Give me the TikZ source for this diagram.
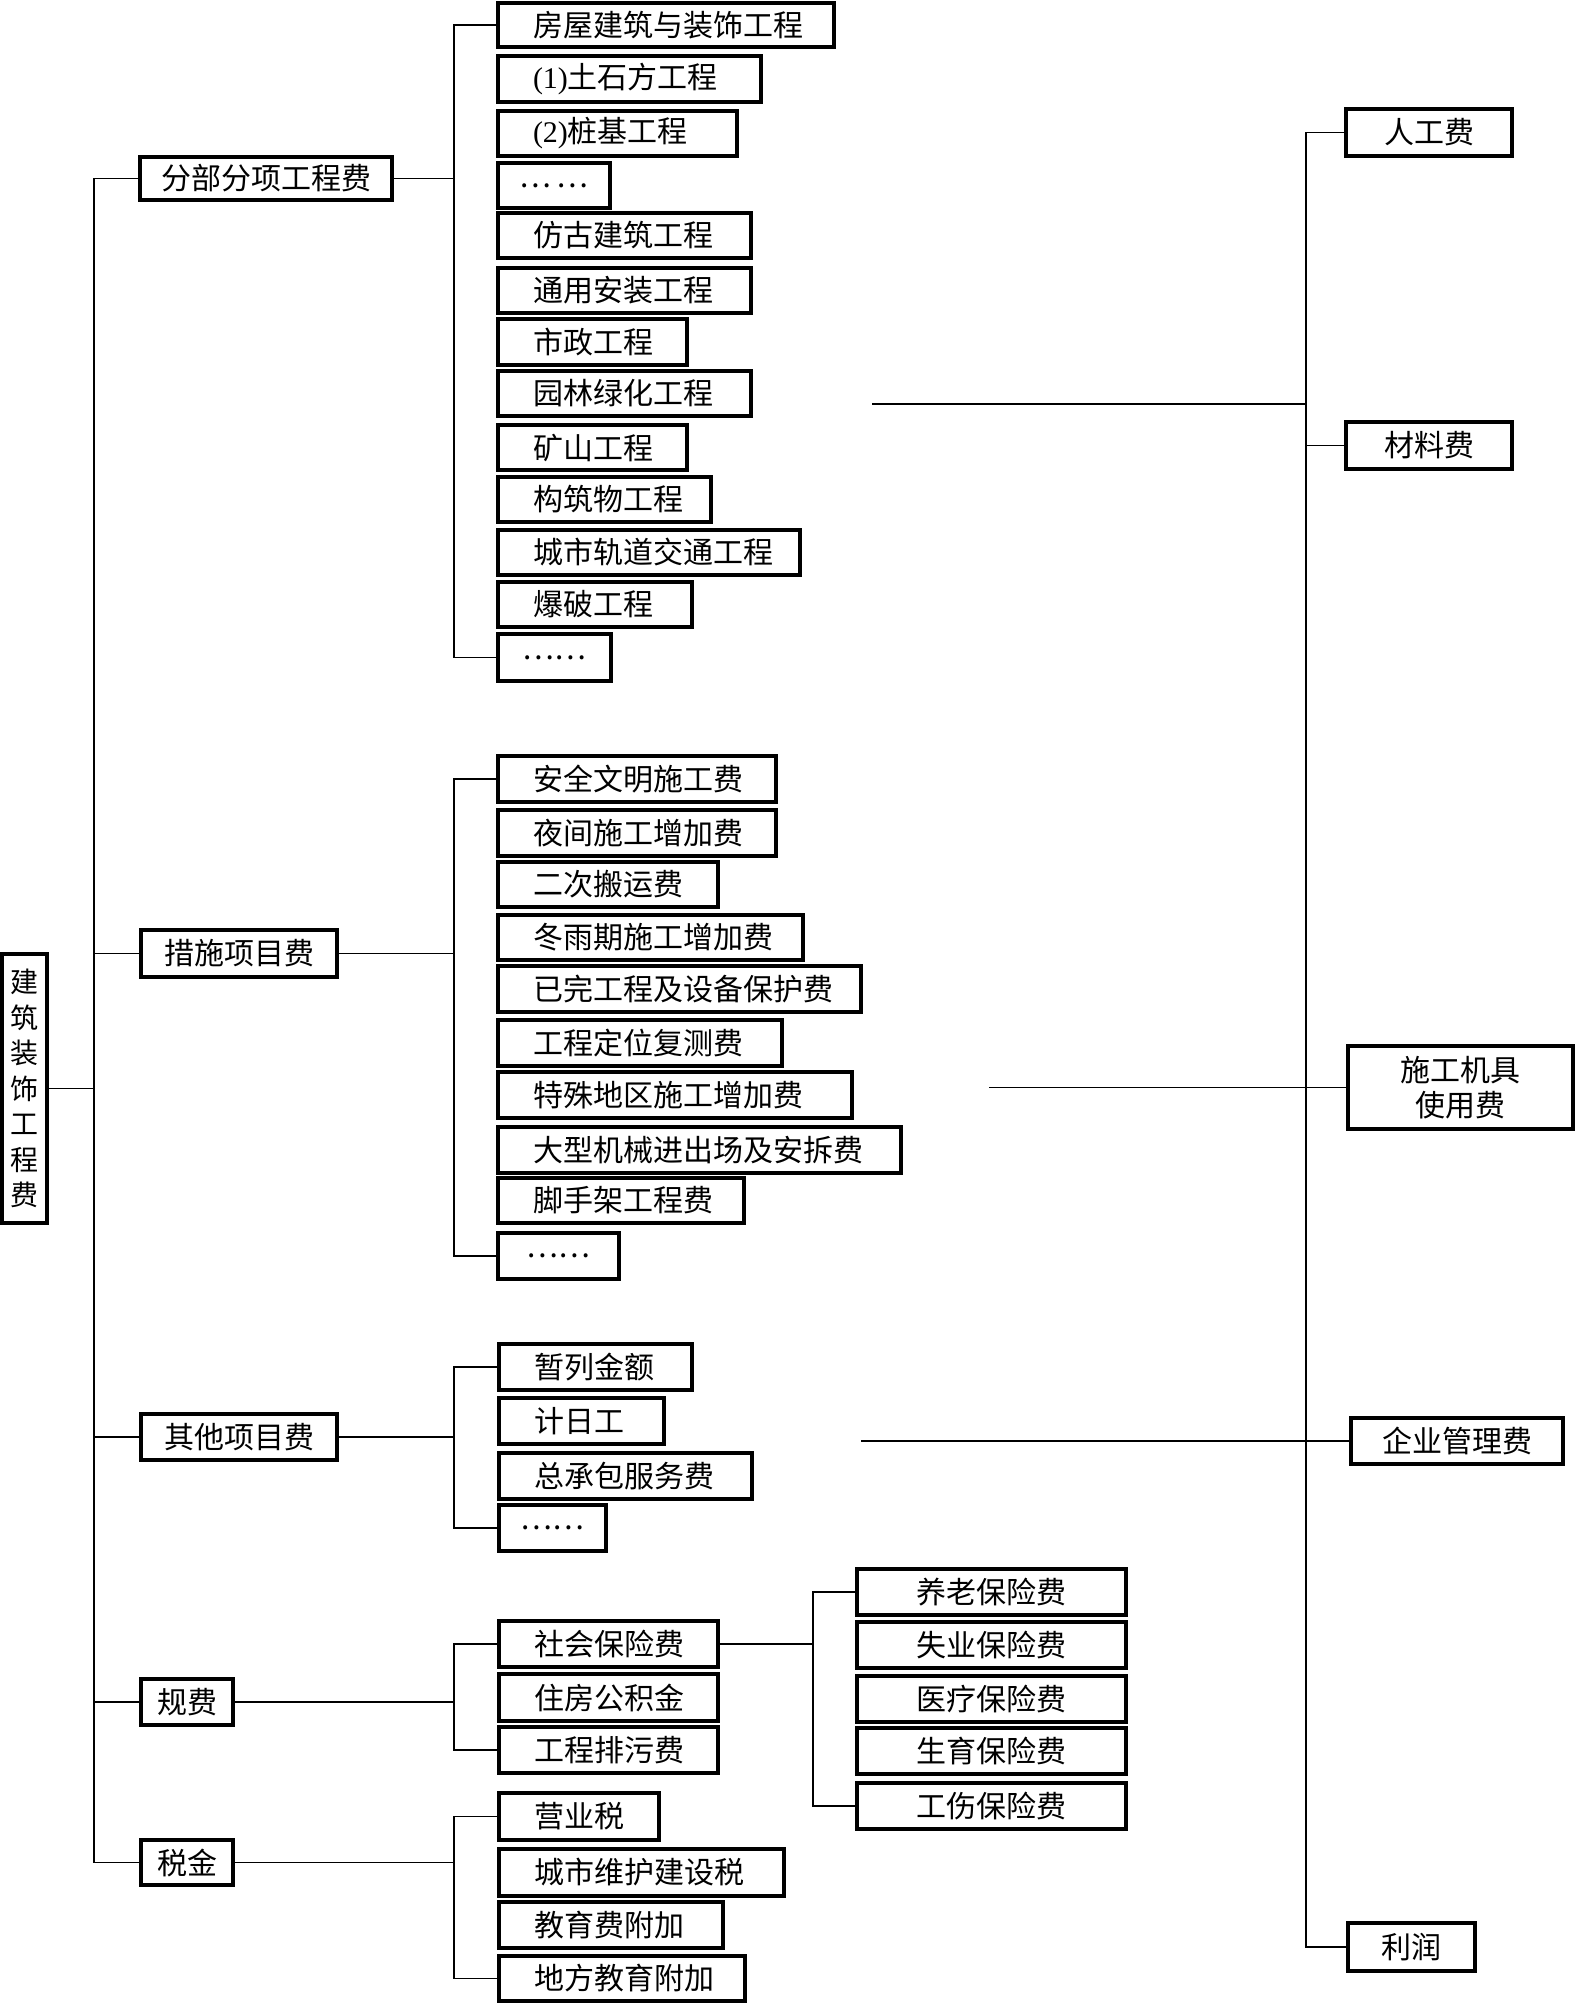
\documentclass[tikz,border=0pt]{standalone}
\usepackage{fontspec}
\setmainfont{Noto Sans CJK SC}
\newfontfamily\lat{Liberation Serif}
\newcommand\fs{\fontsize{15pt}{18pt}\selectfont}
\tikzset{
  box/.style={draw, line width=1.7pt, inner ysep=0pt, inner xsep=0pt, outer sep=0pt, font=\fs},
  conn/.style={line width=0.8pt},
}
\newcommand\LB[6]{%
  \pgfmathsetmacro\bw{(#4-#2)*0.5}%
  \pgfmathsetmacro\bh{(#5-#3)*0.5}%
  \node[box, anchor=north west, minimum width=\bw pt, minimum height=\bh pt] (#1) at (#2,#3) {\makebox[\bw pt][l]{\hspace{17.5pt}#6}};}
\newcommand\CB[7][]{%
  \pgfmathsetmacro\bw{(#5-#3)*0.5}%
  \pgfmathsetmacro\bh{(#6-#4)*0.5}%
  \node[box, anchor=north west, minimum width=\bw pt, minimum height=\bh pt, align=center, #1] (#2) at (#3,#4) {#7};}
\begin{document}
\begin{tikzpicture}[x=0.5pt,y=-0.5pt]
\useasboundingbox (0,0) rectangle (1575,2003);
% root
\CB[font={\fontsize{14pt}{17.75pt}\selectfont}]{R}{2}{954}{47}{1223}{建\\筑\\装\\饰\\工\\程\\费}
% level 1
\CB{p1}{140}{157}{392}{200}{分部分项工程费}
\CB{p2}{141}{930}{337}{977}{措施项目费}
\CB{p3}{141}{1414}{337}{1460}{其他项目费}
\CB{p4}{141}{1679}{233}{1725}{规费}
\CB{p5}{141}{1840}{233}{1885}{税金}
% group 1
\LB{a1}{498}{3}{834}{47}{房屋建筑与装饰工程}
\LB{a2}{498}{56}{761}{102}{{\lat (1)}土石方工程}
\LB{a3}{498}{111}{737}{156}{{\lat (2)}桩基工程}
\CB{a4}{498}{163}{610}{208}{…\,…}
\LB{a5}{498}{213}{751}{258}{仿古建筑工程}
\LB{a6}{498}{268}{751}{313}{通用安装工程}
\LB{a7}{498}{319}{687}{365}{市政工程}
\LB{a8}{498}{371}{751}{416}{园林绿化工程}
\LB{a9}{498}{425}{687}{470}{矿山工程}
\LB{a10}{498}{477}{711}{522}{构筑物工程}
\LB{a11}{498}{530}{800}{575}{城市轨道交通工程}
\LB{a12}{498}{582}{692}{627}{爆破工程}
\CB{a13}{498}{634}{611}{681}{……}
% group 2
\LB{b1}{498}{756}{776}{802}{安全文明施工费}
\LB{b2}{498}{810}{776}{856}{夜间施工增加费}
\LB{b3}{498}{862}{718}{907}{二次搬运费}
\LB{b4}{498}{915}{803}{960}{冬雨期施工增加费}
\LB{b5}{498}{966}{861}{1012}{已完工程及设备保护费}
\LB{b6}{498}{1020}{782}{1066}{工程定位复测费}
\LB{b7}{498}{1072}{852}{1118}{特殊地区施工增加费}
\LB{b8}{498}{1127}{901}{1173}{大型机械进出场及安拆费}
\LB{b9}{498}{1178}{744}{1223}{脚手架工程费}
\CB{b10}{498}{1233}{619}{1279}{……}
% group 3
\LB{c1}{499}{1344}{692}{1390}{暂列金额}
\LB{c2}{499}{1398}{664}{1444}{计日工}
\LB{c3}{499}{1453}{752}{1499}{总承包服务费}
\CB{c4}{499}{1505}{606}{1551}{……}
% group 4
\LB{d1}{499}{1621}{718}{1667}{社会保险费}
\LB{d2}{499}{1674}{718}{1721}{住房公积金}
\LB{d3}{499}{1727}{718}{1773}{工程排污费}
% insurance
\CB{e1}{857}{1569}{1126}{1615}{养老保险费}
\CB{e2}{857}{1622}{1126}{1668}{失业保险费}
\CB{e3}{857}{1676}{1126}{1722}{医疗保险费}
\CB{e4}{857}{1728}{1126}{1774}{生育保险费}
\CB{e5}{857}{1783}{1126}{1829}{工伤保险费}
% group 5
\LB{f1}{499}{1793}{659}{1840}{营业税}
\LB{f2}{499}{1849}{784}{1896}{城市维护建设税}
\LB{f3}{499}{1902}{723}{1948}{教育费附加}
\LB{f4}{499}{1956}{745}{2001}{地方教育附加}
% right column
\CB{r1}{1346}{109}{1512}{156}{人工费}
\CB{r2}{1346}{422}{1512}{469}{材料费}
\CB[font={\fontsize{15pt}{17.5pt}\selectfont}]{r3}{1348}{1046}{1573}{1129}{施工机具\\使用费}
\CB{r4}{1351}{1418}{1563}{1464}{企业管理费}
\CB{r5}{1348}{1923}{1475}{1971}{利润}
% connectors
\coordinate (T) at (94,0);
\coordinate (B) at (454,0);
\coordinate (E) at (813,0);
\coordinate (RT) at (1306,0);
\draw[conn] (R.east) -- (R.east -| T);
\draw[conn] (p1.west) -- (p1.west -| T) |- (p5.west);
\foreach \n in {p2,p3,p4} \draw[conn] (\n.west) -- (\n.west -| T);
\draw[conn] (p1.east) -- (p1.east -| B);
\draw[conn] (a1.west) -- (a1.west -| B) |- (a13.west);
\draw[conn] (p2.east) -- (p2.east -| B);
\draw[conn] (b1.west) -- (b1.west -| B) |- (b10.west);
\draw[conn] (p3.east) -- (p3.east -| B);
\draw[conn] (c1.west) -- (c1.west -| B) |- (c4.west);
\draw[conn] (p4.east) -- (p4.east -| B);
\draw[conn] (d1.west) -- (d1.west -| B) |- (d3.west);
\draw[conn] (p5.east) -- (p5.east -| B);
\draw[conn] (f1.west) -- (f1.west -| B) |- (f4.west);
\draw[conn] (d1.east) -- (d1.east -| E);
\draw[conn] (e1.west) -- (e1.west -| E) |- (e5.west);
\draw[conn] (r1.west) -- (r1.west -| RT) |- (r5.west);
\draw[conn] (r2.west) -- (r2.west -| RT);
\coordinate (s1) at (872,404);
\coordinate (s2) at (989,0);
\coordinate (s3) at (861,0);
\draw[conn] (s1) -- (s1 -| RT);
\draw[conn] (r3.west -| s2) -- (r3.west);
\draw[conn] (r4.west -| s3) -- (r4.west);
\end{tikzpicture}
\end{document}
